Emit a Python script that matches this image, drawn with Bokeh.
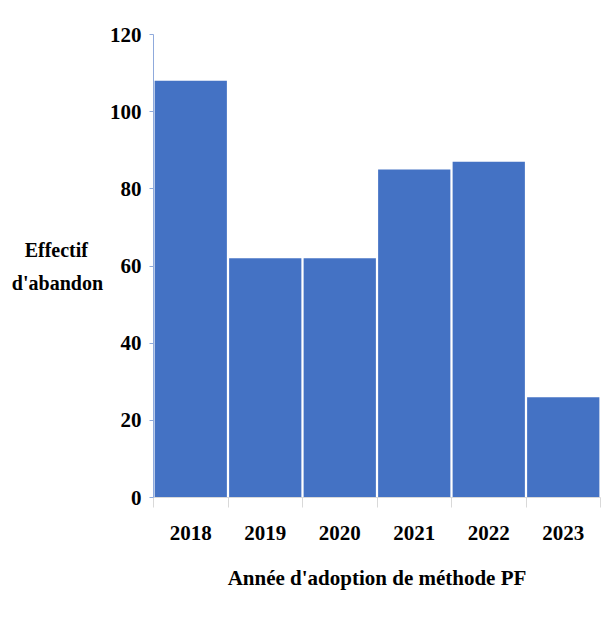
from bokeh.plotting import figure
from bokeh.models import FixedTicker, LinearAxis, ColumnDataSource
from bokeh.embed import file_html
from bokeh.resources import INLINE

years = ["2018", "2019", "2020", "2021", "2022", "2023"]
counts = [108, 62, 62, 85, 87, 26]
y_ticks = [0, 20, 40, 60, 80, 100, 120]

FONT = "Liberation Serif"
positions = [i + 0.5 for i in range(len(years))]
src = ColumnDataSource(dict(x=positions, top=counts, year=years))

p = figure(width=614, height=635, x_range=(0, len(years)), y_range=(0, 120),
           output_backend="svg", toolbar_location=None,
           min_border_left=153, min_border_right=14, min_border_top=34, min_border_bottom=138)
p.outline_line_color = None
p.xgrid.visible = False
p.ygrid.visible = False

p.vbar(x="x", top="top", width=0.97, bottom=0, source=src, fill_color="#4472C4", line_color=None)

# y axis
ya = p.yaxis[0]
ya.ticker = FixedTicker(ticks=y_ticks)
ya.minor_tick_line_color = None
ya.axis_line_color = "#8FAADC"
ya.major_tick_line_color = "#8FAADC"
ya.major_tick_out = 4
ya.major_tick_in = 0
ya.major_label_standoff = 8
ya.major_label_text_font = FONT
ya.major_label_text_font_style = "bold"
ya.major_label_text_font_size = "21px"
ya.major_label_text_color = "#000000"
ya.axis_label = "Effectif\u00a0\u00a0\u00a0\nd'abandon"
ya.axis_label_orientation = "horizontal"
ya.axis_label_text_align = "center"
ya.axis_label_text_font = FONT
ya.axis_label_text_font_style = "bold"
ya.axis_label_text_font_size = "20px"
ya.axis_label_text_line_height = 1.5
ya.axis_label_text_color = "#000000"
ya.axis_label_standoff = 4

# x axis: boundary ticks
xa = p.xaxis[0]
xa.ticker = FixedTicker(ticks=list(range(len(years) + 1)))
xa.major_label_overrides = {i: "" for i in range(len(years) + 1)}
xa.major_label_text_font_size = "0px"
xa.minor_tick_line_color = None
xa.axis_line_color = "#D9D9D9"
xa.major_tick_line_color = "#D9D9D9"
xa.major_tick_out = 10
xa.major_tick_in = 0

# x axis: category labels
xl = LinearAxis(ticker=FixedTicker(ticks=positions))
xl.major_label_overrides = {pos: yr for pos, yr in zip(positions, years)}
xl.axis_line_color = None
xl.major_tick_line_color = None
xl.minor_tick_line_color = None
xl.major_label_standoff = 12
xl.major_label_text_font = FONT
xl.major_label_text_font_style = "bold"
xl.major_label_text_font_size = "21px"
xl.major_label_text_color = "#000000"
xl.axis_label = "Année d'adoption de méthode PF"
xl.axis_label_text_font = FONT
xl.axis_label_text_font_style = "bold"
xl.axis_label_text_font_size = "21px"
xl.axis_label_text_color = "#000000"
xl.axis_label_standoff = 23
p.add_layout(xl, "below")

open("out.html", "w").write(file_html(p, INLINE))
